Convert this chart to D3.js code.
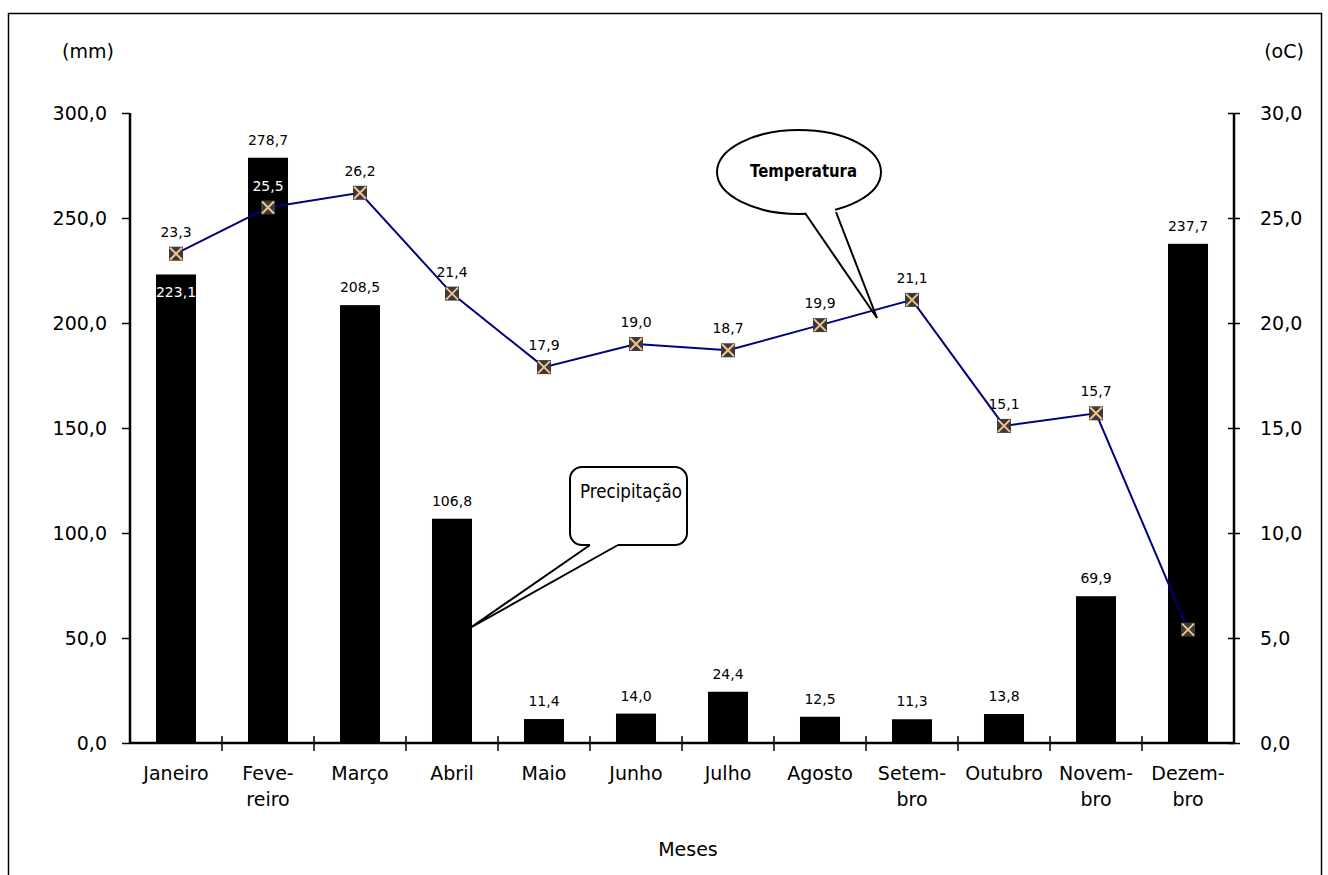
<!DOCTYPE html>
<html>
<head>
<meta charset="utf-8">
<script src="https://cdn.jsdelivr.net/npm/d3@7"></script>
<style>
  body { margin: 0; background: #fff; }
  text { font-family: "DejaVu Sans", Tahoma, sans-serif; }
</style>
</head>
<body>
<div class="chart"></div>
<script>
// data
const months = [["Janeiro"], ["Feve-", "reiro"], ["Março"], ["Abril"], ["Maio"], ["Junho"],
  ["Julho"], ["Agosto"], ["Setem-", "bro"], ["Outubro"], ["Novem-", "bro"], ["Dezem-", "bro"]];
const precip = [223.1, 278.7, 208.5, 106.8, 11.4, 14.0, 24.4, 12.5, 11.3, 13.8, 69.9, 237.7];
const temp = [23.3, 25.5, 26.2, 21.4, 17.9, 19.0, 18.7, 19.9, 21.1, 15.1, 15.7, 5.4];
const precipTicks = [0, 50, 100, 150, 200, 250, 300];
const tempTicks = [0, 5, 10, 15, 20, 25, 30];

const W = 1328, H = 875;
const margin = { left: 130, right: 94, top: 113, bottom: 132 };
const chartWidth = W - margin.left - margin.right;
const height = H - margin.top - margin.bottom;
const fmt = v => d3.format(".1f")(v).replace(".", ",");
const fs = 19;

let svg = d3.select(".chart").append("svg")
  .attr("width", W).attr("height", H);

// outer frame
svg.append("rect")
  .attr("x", 8.5).attr("y", 13.5).attr("width", 1313).attr("height", 900)
  .attr("fill", "none").attr("stroke", "#000").attr("stroke-width", 1.5);

let chart = svg.append("g")
  .attr("transform", "translate(" + margin.left + "," + margin.top + ")");

let x = d3.scaleBand()
  .domain(d3.range(months.length))
  .range([0, chartWidth])
  .paddingInner(0.565).paddingOuter(0.2825);
let xTick = d3.scaleLinear().domain([0, 12]).range([0, chartWidth]);
let y = d3.scaleLinear().domain([0, 300]).range([height, 0]);
let y2 = d3.scaleLinear().domain([0, 30]).range([height, 0]);
let cx = i => x(i) + x.bandwidth() / 2;

// bars
chart.selectAll(".bar").data(precip).enter().append("rect")
  .attr("class", "bar")
  .attr("x", (d, i) => x(i))
  .attr("width", x.bandwidth())
  .attr("y", d => y(d))
  .attr("height", d => height - y(d))
  .attr("fill", "#000");

// bar labels (January label sits inside the bar)
chart.selectAll(".blab").data(precip).enter().append("text")
  .attr("x", (d, i) => cx(i))
  .attr("y", (d, i) => i === 0 ? y(d) + 23 : y(d) - 13)
  .attr("text-anchor", "middle")
  .attr("font-size", 14)
  .attr("fill", (d, i) => i === 0 ? "#fff" : "#000")
  .text(d => fmt(d));

// left axis
let yAxis = chart.append("g")
  .call(d3.axisLeft(y).tickValues(precipTicks).tickSize(8).tickFormat(fmt));
// right axis
let y2Axis = chart.append("g")
  .attr("transform", "translate(" + chartWidth + ",0)")
  .call(d3.axisRight(y2).tickValues(tempTicks).tickSize(6).tickFormat(fmt));
y2Axis.selectAll(".tick line").attr("x1", -6);
[yAxis, y2Axis].forEach(a => {
  a.select(".domain").attr("stroke-width", 2.5).attr("d", "M0,0V" + height);
  a.selectAll(".tick line").attr("stroke-width", 1.5);
  a.selectAll(".tick text").attr("font-size", fs).attr("font-family", "DejaVu Sans");
});
yAxis.selectAll(".tick text").attr("x", -23);
y2Axis.selectAll(".tick text").attr("x", 26);

// x axis
let xAxis = chart.append("g").attr("transform", "translate(0," + height + ")");
xAxis.append("line").attr("x1", 0).attr("x2", chartWidth)
  .attr("stroke", "#000").attr("stroke-width", 2.5);
xAxis.selectAll(".xt").data(d3.range(1, 12)).enter().append("line")
  .attr("x1", d => xTick(d)).attr("x2", d => xTick(d))
  .attr("y1", -7).attr("y2", 8).attr("stroke", "#000").attr("stroke-width", 1.5);
xAxis.selectAll(".xl").data(months).enter().append("text")
  .attr("x", (d, i) => cx(i))
  .attr("y", 37)
  .attr("text-anchor", "middle")
  .attr("font-size", fs)
  .each(function(d) {
    d3.select(this).selectAll("tspan").data(d).enter().append("tspan")
      .attr("x", d3.select(this).attr("x"))
      .attr("dy", (t, j) => j === 0 ? 0 : 26)
      .text(t => t);
  });

// temperature line
let line = d3.line()
  .x((d, i) => cx(i))
  .y(d => y2(d));
chart.append("path")
  .datum(temp)
  .attr("fill", "none")
  .attr("stroke", "#000080")
  .attr("stroke-width", 2)
  .attr("d", line);

let mk = chart.selectAll(".mk").data(temp).enter().append("g")
  .attr("transform", (d, i) => "translate(" + cx(i) + "," + y2(d) + ")");
mk.append("rect").attr("x", -7).attr("y", -7).attr("width", 14).attr("height", 14)
  .attr("fill", "#3a3a3a");
mk.append("path").attr("d", "M-6,-6L6,6M-6,6L6,-6")
  .attr("stroke", "#f4c38c").attr("stroke-width", 2);

// temperature labels (Feb sits on the bar, Dec is hidden on the bar)
chart.selectAll(".tlab").data(temp).enter().append("text")
  .attr("x", (d, i) => cx(i))
  .attr("y", d => y2(d) - 17)
  .attr("text-anchor", "middle")
  .attr("font-size", 14)
  .attr("fill", (d, i) => (i === 1) ? "#fff" : "#000")
  .text(d => fmt(d));

// axis unit labels
svg.append("text").attr("x", 88).attr("y", 58).attr("text-anchor", "middle")
  .attr("font-size", fs).text("(mm)");
svg.append("text").attr("x", 1284).attr("y", 58).attr("text-anchor", "middle")
  .attr("font-size", fs).text("(oC)");
svg.append("text").attr("x", 688).attr("y", 856).attr("text-anchor", "middle")
  .attr("font-size", fs).text("Meses");

// callout: Temperatura
svg.append("ellipse")
  .attr("cx", 799).attr("cy", 172).attr("rx", 82).attr("ry", 42)
  .attr("fill", "#fff").attr("stroke", "#000").attr("stroke-width", 2);
svg.append("path")
  .attr("d", "M806,205 L806,216 L877,318 L835,216 L835,205 Z")
  .attr("fill", "#fff");
svg.append("path")
  .attr("d", "M805,213 L877,318 L836,212")
  .attr("fill", "none").attr("stroke", "#000").attr("stroke-width", 2);
svg.append("text").attr("x", 750).attr("y", 177)
  .attr("font-size", 17).attr("font-weight", "bold")
  .attr("textLength", 107).attr("lengthAdjust", "spacingAndGlyphs")
  .text("Temperatura");

// callout: Precipitação
svg.append("rect")
  .attr("x", 570).attr("y", 467).attr("width", 117).attr("height", 78).attr("rx", 12)
  .attr("fill", "#fff").attr("stroke", "#000").attr("stroke-width", 2);
svg.append("path")
  .attr("d", "M590,538 L590,546 L470,628 L618,546 L618,538 Z")
  .attr("fill", "#fff");
svg.append("path")
  .attr("d", "M590,545 L470,628 L618,545")
  .attr("fill", "none").attr("stroke", "#000").attr("stroke-width", 2);
svg.append("text").attr("x", 580).attr("y", 498)
  .attr("font-size", 19)
  .attr("textLength", 102).attr("lengthAdjust", "spacingAndGlyphs")
  .text("Precipitação");
</script>
</body>
</html>
